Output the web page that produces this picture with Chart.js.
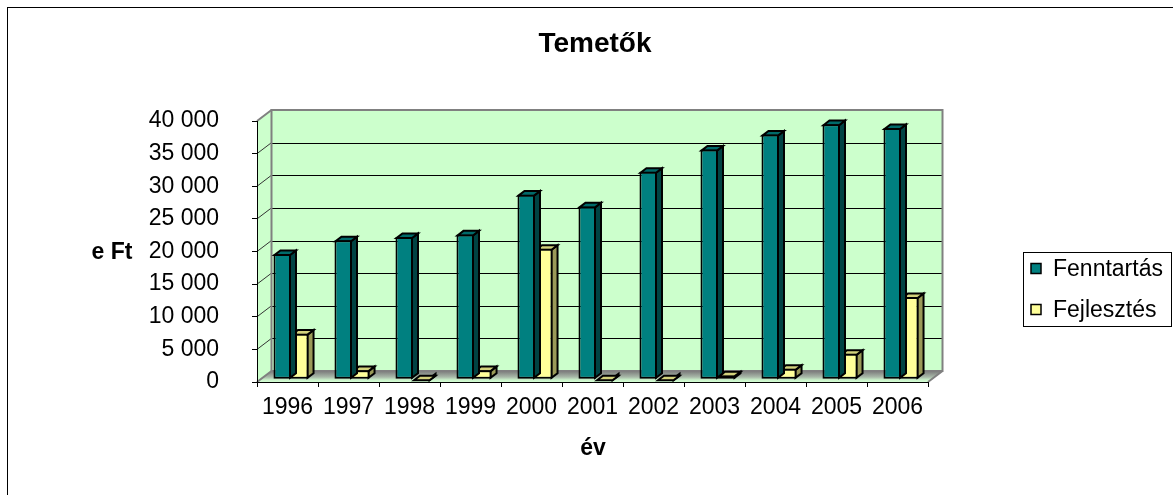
<!DOCTYPE html>
<html>
<head>
<meta charset="utf-8">
<script src="https://cdn.jsdelivr.net/npm/chart.js@4/dist/chart.umd.min.js"></script>
<style>
html,body{margin:0;padding:0;background:#fff;}
#wrap{width:1173px;height:495px;position:relative;}
canvas{display:block;}
</style>
</head>
<body>
<div id="wrap"><canvas id="c" width="1173" height="495"></canvas></div>
<script>
// ---- data ----
const categories = ['1996','1997','1998','1999','2000','2001','2002','2003','2004','2005','2006'];
const fenntartas = [19200, 21300, 21800, 22200, 28300, 26500, 31800, 35200, 37500, 39100, 38500];
const fejlesztes = [7000, 1400, 0, 1400, 20000, 0, 0, 600, 1600, 3900, 12600];
const seriesNames = ['Fenntartás', 'Fejlesztés'];
const yMin = 0, yMax = 40000, yStep = 5000;
const chartTitle = 'Temetők';
const yAxisTitle = 'e Ft';
const xAxisTitle = 'év';

// ---- style ----
const FONT = "'Liberation Sans', Arial, sans-serif";
const frontColors = ['#008080', '#FFFF99'];
const faceColors = [{top:'#006a6a', side:'#004343'}, {top:'#d2d27c', side:'#9a9a58'}];
const DEPTH = {dx: 14.5, dy: -11};
const SHIFT = {dx: 3.5, dy: -2.7};
const BAR = {dx: 6, dy: -4.6};

function fmt(v){ return String(v).replace(/\B(?=(\d{3})+(?!\d))/g, ' '); }

const scenePlugin = {
  id: 'scene',
  beforeDraw(chart){
    const ctx = chart.ctx, a = chart.chartArea, y = chart.scales.y;
    ctx.save();
    ctx.fillStyle = '#fff';
    ctx.fillRect(0, 0, chart.width, chart.height);
    ctx.strokeStyle = '#000'; ctx.lineWidth = 1;
    ctx.strokeRect(7.5, 7.5, chart.width + 20, chart.height + 20);

    const L = a.left, R = a.right, T = y.getPixelForValue(yMax), B = y.getPixelForValue(yMin);
    const dx = DEPTH.dx, dy = DEPTH.dy;
    ctx.fillStyle = '#ccffcc';
    ctx.fillRect(L + dx, T + dy, R - L, B - T);
    ctx.beginPath();
    ctx.moveTo(L, T); ctx.lineTo(L + dx, T + dy); ctx.lineTo(L + dx, B + dy); ctx.lineTo(L, B);
    ctx.closePath(); ctx.fill();

    // floor
    const g = ctx.createLinearGradient(0, B + dy, 0, B);
    g.addColorStop(0, '#7a7a7a');
    g.addColorStop(0.55, '#a9b9a9');
    g.addColorStop(0.8, '#c8f0c8');
    g.addColorStop(1, '#d4ffd4');
    ctx.fillStyle = g;
    ctx.beginPath();
    ctx.moveTo(L, B); ctx.lineTo(R, B); ctx.lineTo(R + dx, B + dy); ctx.lineTo(L + dx, B + dy);
    ctx.closePath(); ctx.fill();

    // gridlines
    y.ticks.forEach(t => {
      if (t.value === yMin || t.value === yMax) return;
      const py = Math.round(y.getPixelForValue(t.value) + dy) + 0.5;
      ctx.strokeStyle = '#000'; ctx.lineWidth = 1;
      ctx.beginPath(); ctx.moveTo(L + dx, py); ctx.lineTo(R + dx, py); ctx.stroke();
      const pf = y.getPixelForValue(t.value);
      ctx.strokeStyle = '#333';
      ctx.beginPath(); ctx.moveTo(L, pf); ctx.lineTo(L + dx, pf + dy); ctx.stroke();
    });

    // wall borders
    ctx.strokeStyle = '#808080'; ctx.lineWidth = 2;
    ctx.strokeRect(L + dx, T + dy, R - L, B - T);
    ctx.beginPath();
    ctx.moveTo(L, T); ctx.lineTo(L + dx, T + dy);
    ctx.moveTo(R, B); ctx.lineTo(R + dx, B + dy);
    ctx.moveTo(L, B); ctx.lineTo(L + dx, B + dy);
    ctx.stroke();
    ctx.restore();
  },
  beforeDatasetsDraw(chart){
    chart.ctx.save();
    chart.ctx.translate(SHIFT.dx, SHIFT.dy);
  },
  beforeDatasetDraw(chart, args){
    const ctx = chart.ctx, fc = faceColors[args.index];
    ctx.save();
    ctx.lineWidth = 2; ctx.strokeStyle = '#000'; ctx.lineJoin = 'miter';
    args.meta.data.forEach(el => {
      const p = el.getProps(['x','y','base','width'], true);
      const l = p.x - p.width/2, r = p.x + p.width/2;
      const top = Math.min(p.y, p.base), bot = Math.max(p.y, p.base);
      // side
      ctx.fillStyle = fc.side;
      ctx.beginPath();
      ctx.moveTo(r - 1, top + 1); ctx.lineTo(r - 1 + BAR.dx, top + 1 + BAR.dy);
      ctx.lineTo(r - 1 + BAR.dx, bot - 1 + BAR.dy); ctx.lineTo(r - 1, bot - 1);
      ctx.closePath(); ctx.fill(); ctx.stroke();
      // top
      ctx.fillStyle = fc.top;
      ctx.beginPath();
      ctx.moveTo(l + 1, top + 1); ctx.lineTo(l + 1 + BAR.dx, top + 1 + BAR.dy);
      ctx.lineTo(r - 1 + BAR.dx, top + 1 + BAR.dy); ctx.lineTo(r - 1, top + 1);
      ctx.closePath(); ctx.fill(); ctx.stroke();
    });
    ctx.restore();
  },
  afterDatasetsDraw(chart){
    chart.ctx.restore();
  },
  afterDraw(chart){
    const ctx = chart.ctx;
    ctx.save();
    ctx.fillStyle = '#000';
    ctx.textAlign = 'center'; ctx.textBaseline = 'alphabetic';
    ctx.font = 'bold 28px ' + FONT;
    ctx.fillText(chartTitle, 595, 52);
    ctx.font = 'bold 23px ' + FONT;
    ctx.fillText(yAxisTitle, 112, 259);
    ctx.fillText(xAxisTitle, 593, 455);

    // legend
    ctx.fillStyle = '#fff';
    ctx.fillRect(1023.5, 252.5, 148, 74);
    ctx.strokeStyle = '#000'; ctx.lineWidth = 1;
    ctx.strokeRect(1023.5, 252.5, 148, 74);
    ctx.font = '23px ' + FONT;
    ctx.textAlign = 'left'; ctx.textBaseline = 'middle';
    chart.data.datasets.forEach((ds, i) => {
      const cy = 268.5 + i * 41;
      ctx.fillStyle = ds.backgroundColor;
      ctx.fillRect(1031, cy - 5, 10, 10);
      ctx.lineWidth = 1.5; ctx.strokeStyle = '#000';
      ctx.strokeRect(1031, cy - 5, 10, 10);
      ctx.fillStyle = '#000';
      ctx.fillText(ds.label, 1053, cy + 1);
    });
    ctx.restore();
  }
};

new Chart(document.getElementById('c'), {
  type: 'bar',
  data: {
    labels: categories,
    datasets: [
      {label: seriesNames[0], data: fenntartas, backgroundColor: frontColors[0], borderColor: '#000', borderWidth: 2, borderSkipped: false, clip: false},
      {label: seriesNames[1], data: fejlesztes, backgroundColor: frontColors[1], borderColor: '#000', borderWidth: 2, borderSkipped: false, clip: false}
    ]
  },
  options: {
    responsive: false,
    animation: false,
    events: [],
    layout: {padding: {top: 121, left: 0, right: 245, bottom: 0}},
    datasets: {bar: {categoryPercentage: 0.575, barPercentage: 1}},
    plugins: {legend: {display: false}, title: {display: false}, tooltip: {enabled: false}},
    scales: {
      x: {
        type: 'category',
        afterFit(s){ s.height = 113; },
        grid: {offset: true, drawOnChartArea: false, drawTicks: true, tickLength: 5, color: '#000'},
        border: {display: true, color: '#000', width: 1},
        ticks: {font: {family: FONT, size: 23}, color: '#000', padding: 7, maxRotation: 0, autoSkip: false}
      },
      y: {
        min: yMin, max: yMax,
        afterFit(s){ s.width = 257; },
        grid: {drawOnChartArea: false, drawTicks: true, tickLength: 5, color: '#000'},
        border: {display: true, color: '#000', width: 1},
        ticks: {stepSize: yStep, font: {family: FONT, size: 23}, color: '#000', padding: 33, callback: v => fmt(v)}
      }
    }
  },
  plugins: [scenePlugin]
});
</script>
</body>
</html>
